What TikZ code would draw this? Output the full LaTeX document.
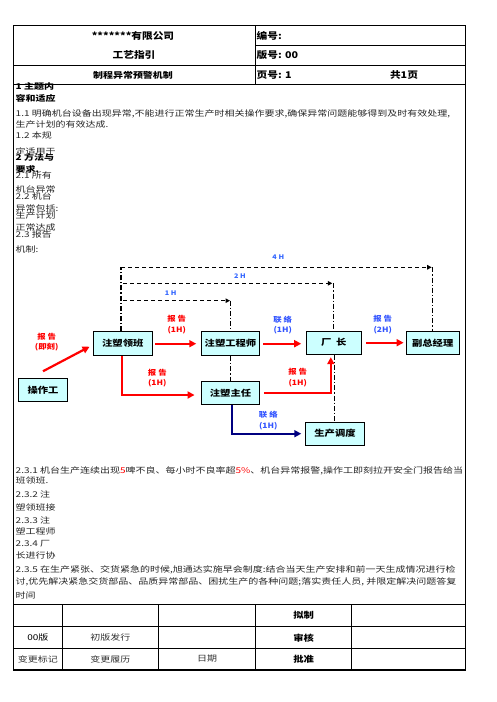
\documentclass[tikz,border=0pt]{standalone}
\usepackage{fontspec}
\setmainfont{Noto Sans CJK SC}
\newfontfamily\bodyf{Noto Sans CJK SC}[FakeStretch=1.25]
\newfontfamily\nodef{Noto Sans CJK SC}[FakeStretch=1.2]
\newfontfamily\headf{Noto Sans CJK SC}[FakeStretch=1.15]
\usetikzlibrary{calc,arrows.meta}
\definecolor{boxc}{HTML}{CCFFFF}
\definecolor{lblblue}{HTML}{3355FF}
\definecolor{hblue}{HTML}{3366FF}
\definecolor{navyc}{HTML}{000080}
\definecolor{redc}{HTML}{FF0000}
\begin{document}
\begin{tikzpicture}[x=1pt,y=-1pt,
  frame/.style={draw=black,line width=0.9pt},
  nbox/.style={draw=black,line width=0.9pt,fill=boxc,minimum width=#1,minimum height=23.5pt,inner sep=0pt,font=\nodef\bfseries\fontsize{8.6}{10}\selectfont},
  bodyt/.style={anchor=west,inner sep=0pt,text=black!85,font=\bodyf\fontsize{8}{9}\selectfont},
  bodyb/.style={anchor=west,inner sep=0pt,text=black,font=\bodyf\bfseries\fontsize{8}{9}\selectfont},
  headt/.style={inner sep=0pt,font=\headf\bfseries\fontsize{9.3}{11}\selectfont},
  foott/.style={inner sep=0pt,text=black!80,font=\bodyf\fontsize{8}{9}\selectfont},
  footb/.style={inner sep=0pt,font=\nodef\bfseries\fontsize{8.6}{10}\selectfont},
  lbl/.style={inner sep=0pt,align=center,font=\headf\bfseries\fontsize{7.3}{10.5}\selectfont},
  hlbl/.style={inner sep=0pt,text=hblue,font=\headf\bfseries\fontsize{6.3}{8}\selectfont},
  redarr/.style={draw=redc,line width=2.2pt,-{Triangle[length=7pt,width=7pt]}},
  navyarr/.style={draw=navyc,line width=2.2pt,-{Triangle[length=7pt,width=7pt]}},
  dsh/.style={draw=black,line width=1.2pt,dash pattern=on 4pt off 3pt,-{Triangle[length=4.5pt,width=4.5pt]}},
  ddot/.style={draw=black,line width=1.2pt,dash pattern=on 5pt off 2pt on 1.2pt off 2pt}
]
\useasboundingbox (0,0) rectangle (496,702);
\fill[white] (0,0) rectangle (496,702);

% ---------- frame and header ----------
\draw[frame] (13.5,25) rectangle (465,670);
\draw[frame] (255,25) -- (255,84.3);
\draw[frame] (255,45.7) -- (465,45.7);
\draw[frame] (13.5,65) -- (465,65);
\draw[frame] (13.5,84.3) -- (465,84.3);

\node[headt] (h1) at (133,35.7) {*******有限公司};
\node[headt] (h2) at (134,55) {工艺指引};
\node[headt,font=\nodef\bfseries\fontsize{8.3}{10}\selectfont] (h3) at (133,75) {制程异常预警机制};
\node[headt,anchor=west] (h4) at (256.5,35.7) {编号:};
\node[headt,anchor=west] (h5) at (256.5,55) {版号: 00};
\node[headt,anchor=west] (h6) at (256.5,75) {页号: 1};
\node[headt] (h7) at (404,75) {共1页};

% ---------- body text (upper) ----------
\node[bodyb] (t01) at (15.5,86.5) {1 主题内};
\node[bodyb] (t02) at (15.5,98.5) {容和适应};
\node[bodyt] (t03) at (15.5,113.5) {1.1 明确机台设备出现异常,不能进行正常生产时相关操作要求,确保异常问题能够得到及时有效处理,};
\node[bodyt] (t04) at (15.5,124.5) {生产计划的有效达成.};
\node[bodyt] (t05) at (15.5,135.5) {1.2 本规};
\begin{scope}
  \clip (13.5,140) rectangle (465,153);
  \node[bodyt] (t06) at (15.5,151) {定适用于};
\end{scope}
\node[bodyb] (t07) at (15.5,157.3) {2 方法与};
\begin{scope}
  \clip (13.5,161) rectangle (465,172);
  \node[bodyb] (t08) at (15.5,169.5) {要求.};
\end{scope}
\node[bodyt] (t09) at (15.5,175.5) {2.1 所有};
\begin{scope}
  \clip (13.5,180) rectangle (465,192);
  \node[bodyt] (t10) at (15.5,189.5) {机台异常};
\end{scope}
\node[bodyt] (t11) at (15.5,196) {2.2 机台};
\node[bodyt] (t12) at (15.5,208) {异常包括:};
\node[bodyt] (t13) at (15.5,215) {生产计划};
\begin{scope}
  \clip (13.5,220) rectangle (465,231);
  \node[bodyt] (t14) at (15.5,227.7) {正常达成};
\end{scope}
\node[bodyt] (t15) at (15.5,234) {2.3 报告};
\node[bodyt] (t16) at (15.5,249.5) {机制:};

% ---------- diagram nodes ----------
\node[nbox=49.4pt,minimum height=23.4pt] (czg) at (43,390) {操作工};
\node[nbox=59pt,minimum height=24pt] (lb) at (122.8,343.7) {注塑领班};
\node[nbox=57.6pt,minimum height=24pt] (gcs) at (230.5,343.7) {注塑工程师};
\node[nbox=54.3pt,minimum height=23.3pt] (cz) at (333.8,342.7) {厂\ \ 长};
\node[nbox=53.3pt,minimum height=23.3pt] (fz) at (432.7,342.7) {副总经理};
\node[nbox=57.6pt,minimum height=23.3pt] (zr) at (230.5,392.7) {注塑主任};
\node[nbox=58.6pt,minimum height=22.7pt] (dd) at (335,433.7) {生产调度};

% ---------- dashed escalation lines ----------
\coordinate (v0) at (121,267.3);
\coordinate (v2) at (123.3,283.3);
\coordinate (v1) at (123.3,300.7);
\draw[ddot] (lb.north -| v0) -- (v0);
\draw[dsh] (v0) -- ($(v0 -| fz.north)+(-1,0)$);
\draw[ddot] (v0 -| fz.north) -- (fz.north);
\draw[dsh] (v2) -- ($(v2 -| cz.north)+(-1.5,0)$);
\draw[ddot] ($(v2 -| cz.north)+(-0.5,0)$) -- ($(cz.north)+(-0.5,0)$);
\draw[dsh] (v1) -- ($(v1 -| gcs.north)+(-0.5,0)$);
\draw[ddot] (v1 -| gcs.north) -- (gcs.north);
\draw[ddot] (gcs.south) -- (zr.north);
\draw[ddot] ($(cz.south)+(0.5,0)$) -- ($(cz.south |- dd.north)+(0.5,0)$);

\node[hlbl] (l4h) at (278.3,257.3) {4 H};
\node[hlbl] (l2h) at (240,276) {2 H};
\node[hlbl] (l1h) at (170.7,293.3) {1 H};

% ---------- solid arrows ----------
\draw[redarr] ($(czg.north)+(0,-6.6)$) -- ($(lb.west)+(-3.3,3)$);
\draw[redarr,shorten <=2.7pt,shorten >=5pt] (lb.east) -- (gcs.west);
\draw[redarr,shorten <=3.4pt,shorten >=5pt] (gcs.east) -- (gcs.east -| cz.west);
\draw[redarr,shorten <=4.7pt,shorten >=2pt] (cz.east) -- (fz.west);
\draw[redarr,shorten >=6.7pt] ($(lb.south)+(-1,0)$) |- ($(zr.west)+(0,2.3)$);
\draw[redarr] ($(zr.east)+(4,0)$) -| ($(cz.south)+(-3,2.4)$);
\draw[navyarr,shorten >=4pt] ($(zr.south)+(1.8,0)$) |- (dd.west);

% ---------- arrow labels ----------
\node[lbl,text=redc] (a1) at (46.7,342) {报\ 告\\(即刻)};
\node[lbl,text=redc] (a2) at (176.7,324.7) {报\ 告\\(1H)};
\node[lbl,text=lblblue] (a3) at (282.7,325.3) {联\ 络\\(1H)};
\node[lbl,text=lblblue] (a4) at (382.7,324.8) {报\ 告\\(2H)};
\node[lbl,text=redc] (a5) at (157.3,378) {报\ 告\\(1H)};
\node[lbl,text=redc] (a6) at (297.7,377.7) {报\ 告\\(1H)};
\node[lbl,text=lblblue] (a7) at (268.3,420.7) {联\ 络\\(1H)};

% ---------- body text (lower) ----------
\node[bodyt] (b01) at (15.5,470.7) {2.3.1 机台生产连续出现\textcolor{redc}{5}啤不良、每小时不良率超\textcolor{redc}{5\%}、机台异常报警,操作工即刻拉开安全门报告给当};
\node[bodyt] (b02) at (15.5,480.5) {班领班.};
\node[bodyt] (b03) at (15.5,494) {2.3.2 注};
\node[bodyt] (b04) at (15.5,507.3) {塑领班接};
\node[bodyt] (b05) at (15.5,520) {2.3.3 注};
\node[bodyt] (b06) at (15.5,531) {塑工程师};
\node[bodyt] (b07) at (15.5,543.3) {2.3.4 厂};
\node[bodyt] (b08) at (15.5,555) {长进行协};
\node[bodyt] (b09) at (15.5,570) {2.3.5 在生产紧张、交货紧急的时候,旭通达实施早会制度:结合当天生产安排和前一天生成情况进行检};
\node[bodyt] (b10) at (15.5,581.7) {讨,优先解决紧急交货部品、品质异常部品、困扰生产的各种问题;落实责任人员, 并限定解决问题答复};
\begin{scope}
  \clip (13.5,586) rectangle (465,604);
  \node[bodyt] (b11) at (15.5,595.5) {时间};
\end{scope}

% ---------- footer table ----------
\draw[frame] (13.5,604.3) -- (465,604.3);
\draw[frame] (13.5,626.7) -- (465,626.7);
\draw[frame] (13.5,648.3) -- (465,648.3);
\draw[line width=1.8pt] (13.5,670) -- (465,670);
\foreach \xx in {62.3,158.3,255.7,351.7} { \draw[frame] (\xx,604.3) -- (\xx,670); }

\node[footb] (f1) at (303.7,615.7) {拟制};
\node[footb] (f2) at (303.7,637.7) {审核};
\node[footb] (f3) at (303.7,659) {批准};
\node[foott,text=black] (f4) at (37.9,637.7) {00版};
\node[foott] (f5) at (110.3,637.7) {初版发行};
\node[foott] (f6) at (37.9,659) {变更标记};
\node[foott] (f7) at (110.3,659) {变更履历};
\node[foott] (f8) at (207,659) {日期};
\end{tikzpicture}
\end{document}
